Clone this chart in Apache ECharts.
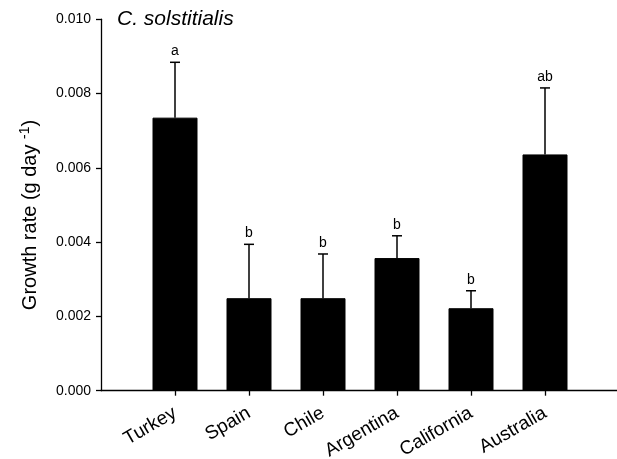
<!DOCTYPE html>
<html>
<head>
<meta charset="utf-8">
<script src="https://cdn.jsdelivr.net/npm/echarts@6/dist/echarts.min.js"></script>
<style>
html,body{margin:0;padding:0;background:#fff;}
#c{width:617px;height:459px;}
</style>
</head>
<body>
<div id="c"></div>
<script>
const categories = ['Turkey', 'Spain', 'Chile', 'Argentina', 'California', 'Australia'];
const means = [0.00735, 0.00249, 0.00249, 0.00357, 0.00222, 0.00636];
const errorTops = [0.00884, 0.00394, 0.00368, 0.00417, 0.00269, 0.00815];
const letters = ['a', 'b', 'b', 'b', 'b', 'ab'];
const yTicks = [0, 0.002, 0.004, 0.006, 0.008, 0.010];
const title = 'C. solstitialis';

const FONT = 'Liberation Sans, Arial, sans-serif';
const axisCats = [''].concat(categories, ['']);
const barData = ['-'].concat(means, ['-']);
const errData = categories.map((c, i) => [i + 1, means[i], errorTops[i]]);

const chart = echarts.init(document.getElementById('c'));
chart.setOption({
  animation: false,
  backgroundColor: '#fff',
  grid: { left: 101, width: 518, top: 19.2, height: 371.5, containLabel: false, outerBoundsMode: 'none' },
  xAxis: {
    type: 'category',
    data: axisCats,
    boundaryGap: false,
    axisLine: { lineStyle: { color: '#000', width: 1.3 } },
    axisTick: { length: 5, lineStyle: { color: '#000', width: 1.3 },
      interval: (i) => i > 0 && i < axisCats.length - 1 },
    axisLabel: { rotate: 30, margin: 21, color: '#000', fontFamily: FONT, fontSize: 19, interval: 0 },
    splitLine: { show: false }
  },
  yAxis: {
    type: 'value',
    min: 0, max: 0.01, interval: 0.002,
    axisLine: { show: true, lineStyle: { color: '#000', width: 1.3 } },
    axisTick: { show: true, length: 5, lineStyle: { color: '#000', width: 1.3 } },
    axisLabel: { color: '#000', fontFamily: FONT, fontSize: 14, margin: 10,
      formatter: (v) => v.toFixed(3) },
    splitLine: { show: false }
  },
  graphic: [
    { type: 'text', left: 117, top: 9,
      style: { text: title, fontFamily: FONT, fontStyle: 'italic', fontSize: 21, fill: '#000' } },
    { type: 'text', x: 30, y: 215, rotation: Math.PI / 2,
      style: { text: 'Growth rate (g day {s|-1})', rich: { s: { fontSize: 14, verticalAlign: 'top', padding: [0, 0, 10, 0], fontFamily: FONT, fill: '#000' } },
        fontFamily: FONT, fontSize: 20, fill: '#000', align: 'center', verticalAlign: 'middle' } }
  ],
  series: [
    { type: 'bar', data: barData, barWidth: 45,
      itemStyle: { color: '#000', borderColor: '#000', borderWidth: 1 } },
    { type: 'custom', data: errData, z: 5,
      renderItem: (params, api) => {
        const x = api.value(0);
        const b = api.coord([x, api.value(1)]);
        const t = api.coord([x, api.value(2)]);
        const cap = 5;
        return { type: 'group', children: [
          { type: 'line', shape: { x1: b[0], y1: b[1], x2: t[0], y2: t[1] }, style: { stroke: '#000', lineWidth: 1.5 } },
          { type: 'line', shape: { x1: t[0] - cap, y1: t[1], x2: t[0] + cap, y2: t[1] }, style: { stroke: '#000', lineWidth: 1.5 } },
          { type: 'text', x: t[0], y: t[1] - 4, style: { text: letters[params.dataIndex], fontFamily: FONT, fontSize: 14, fill: '#000', align: 'center', verticalAlign: 'bottom' } }
        ] };
      } }
  ]
});
</script>
</body>
</html>
